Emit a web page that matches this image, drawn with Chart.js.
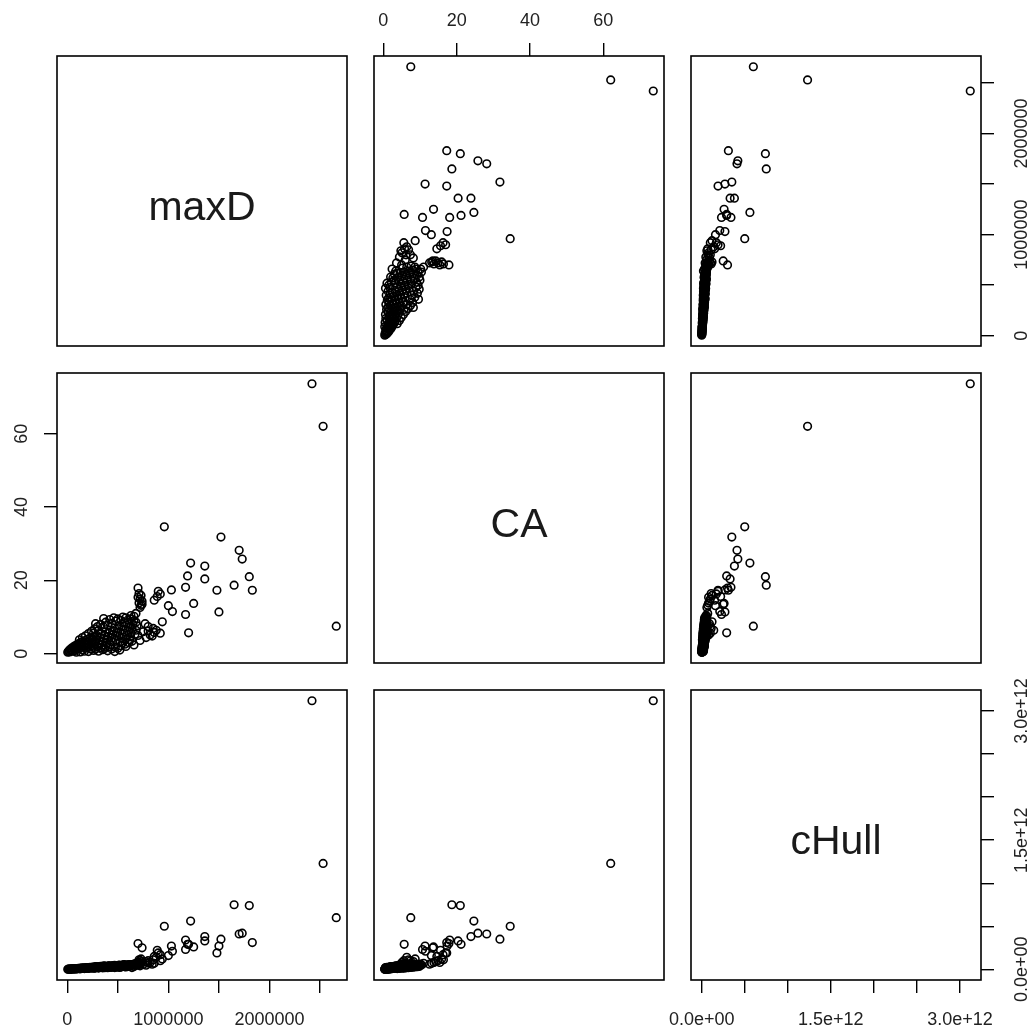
<!DOCTYPE html>
<html>
<head>
<meta charset="utf-8">
<script src="https://cdn.jsdelivr.net/npm/chart.js@4.4.1/dist/chart.umd.min.js"></script>
<style>
  html, body { margin: 0; background: #fff; }
  #wrap { position: relative; width: 1036px; height: 1034px; }
  #wrap canvas { position: absolute; left: 0; top: 0; }
</style>
</head>
<body>
<div id="wrap"></div>
<script>
// ---- data: one entry per observation, same order in every array ----
const maxD = [
  2660000, 2530000, 2420000, 960000, 1520000, 1700000, 1730000, 1220000, 1360000, 1800000,
  1190000, 1360000, 1650000, 1830000, 1170000, 1480000, 1030000, 900000, 700000, 1250000,
  1500000, 1000000, 1040000, 1170000, 1200000, 940000, 860000, 890000, 920000, 920000,
  880000, 820000, 850000, 640000, 360000, 280000, 720000, 730000, 710000, 740000,
  720000, 700000, 730000, 710000, 740000, 680000, 660000, 770000, 800000, 600000,
  550000,
  5000, 12000, 18000, 25000, 31000, 36000, 42000, 48000, 55000, 61000,
  66000, 72000, 79000, 83000, 91000, 97000, 104000, 110000, 116000, 122000,
  129000, 135000, 141000, 148000, 153000, 160000, 167000, 173000, 180000, 186000,
  193000, 199000, 205000, 212000, 219000, 226000, 232000, 238000, 245000, 251000,
  258000, 265000, 272000, 279000, 286000, 293000, 300000, 308000, 315000, 322000,
  330000, 338000, 345000, 352000, 360000, 368000, 375000, 383000, 390000, 398000,
  405000, 413000, 420000, 428000, 436000, 444000, 452000, 460000, 468000, 476000,
  484000, 492000, 500000, 508000, 517000, 525000, 534000, 542000, 550000, 559000,
  567000, 576000, 585000, 594000, 603000, 612000, 620000, 630000, 640000, 650000,
  660000, 670000, 680000, 690000,
  210000, 260000, 310000, 350000, 400000, 440000, 470000, 500000, 530000, 570000,
  610000, 520000, 420000, 370000, 280000, 170000, 130000, 90000,
  120000, 150000, 180000, 210000, 240000, 270000, 300000, 330000, 380000, 420000,
  460000, 500000, 310000, 260000, 360000, 400000, 440000, 480000, 530000, 580000,
  630000,
  580000, 660000, 720000, 780000, 840000, 750000, 700000, 620000, 550000, 860000,
  800000, 680000, 630000
];
const CA = [
  7.5, 62.0, 73.6, 34.6, 31.8, 28.2, 25.8, 24.7, 23.9, 21.0,
  21.2, 20.4, 18.7, 17.3, 18.1, 17.3, 17.4, 17.0, 17.9, 13.7,
  11.4, 13.1, 11.5, 10.7, 5.7, 8.7, 14.6, 15.6, 16.3, 5.6,
  6.4, 5.1, 6.9, 3.4, 9.6, 8.2, 12.6, 13.2, 13.8, 14.3,
  14.9, 15.4, 15.9, 16.4, 13.5, 11.0, 10.2, 8.2, 7.4, 9.2,
  10.0,
  0.4, 0.6, 0.9, 0.5, 1.2, 0.8, 1.5, 1.0, 0.7, 1.8,
  1.3, 2.1, 0.9, 1.6, 2.4, 1.2, 1.9, 2.7, 1.4, 2.2,
  3.0, 1.7, 2.5, 3.3, 1.1, 2.0, 2.8, 3.6, 1.5, 2.3,
  3.1, 3.9, 1.8, 2.6, 3.4, 4.3, 1.3, 2.1, 3.0, 3.8,
  4.6, 1.7, 2.5, 3.3, 4.1, 5.0, 2.0, 2.9, 3.7, 4.5,
  5.4, 1.6, 2.4, 3.2, 4.2, 5.0, 5.9, 2.0, 2.9, 3.8,
  4.7, 5.6, 6.4, 2.4, 3.3, 4.3, 5.2, 6.1, 7.0, 1.8,
  3.7, 4.8, 5.8, 6.8, 7.7, 3.2, 4.3, 5.4, 6.5, 7.5,
  8.5, 4.0, 5.1, 6.2, 7.3, 8.2, 4.6, 5.8, 6.9, 8.0,
  9.0, 5.3, 6.4, 7.6,
  0.6, 0.9, 0.7, 1.1, 0.8, 1.3, 0.6, 1.5, 2.2, 2.6,
  3.0, 1.0, 1.9, 1.4, 1.2, 0.7, 0.5, 0.4,
  3.8, 4.4, 4.9, 5.5, 6.1, 6.8, 7.4, 8.0, 8.6, 9.3,
  9.8, 9.5, 6.3, 5.6, 7.3, 7.8, 8.3, 8.9, 9.1, 9.8,
  10.4,
  2.0, 2.4, 3.6, 4.4, 4.8, 6.0, 5.0, 3.8, 3.0, 5.8,
  6.2, 8.6, 9.5
];
const cHull = [
  0.60e12, 1.23e12, 3.12e12, 0.50e12, 0.35e12, 0.41e12, 0.42e12, 0.56e12, 0.38e12, 0.74e12,
  0.29e12, 0.33e12, 0.75e12, 0.31e12, 0.34e12, 0.19e12, 0.27e12, 0.19e12, 0.30e12, 0.26e12,
  0.27e12, 0.16e12, 0.21e12, 0.23e12, 0.29e12, 0.12e12, 0.15e12, 0.22e12, 0.17e12, 0.10e12,
  0.14e12, 0.08e12, 0.11e12, 0.02e12, 0.04e12, 0.03e12, 0.06e12, 0.07e12, 0.08e12, 0.09e12,
  0.10e12, 0.08e12, 0.12e12, 0.11e12, 0.25e12, 0.07e12, 0.06e12, 0.09e12, 0.10e12, 0.05e12,
  0.05e12,
  0.0005e12, 0.001e12, 0.001e12, 0.002e12, 0.002e12, 0.003e12, 0.003e12, 0.004e12, 0.004e12, 0.005e12,
  0.005e12, 0.006e12, 0.006e12, 0.007e12, 0.008e12, 0.007e12, 0.009e12, 0.010e12, 0.009e12, 0.011e12,
  0.012e12, 0.011e12, 0.013e12, 0.014e12, 0.010e12, 0.014e12, 0.015e12, 0.017e12, 0.013e12, 0.016e12,
  0.018e12, 0.020e12, 0.016e12, 0.019e12, 0.021e12, 0.023e12, 0.015e12, 0.019e12, 0.022e12, 0.024e12,
  0.026e12, 0.019e12, 0.022e12, 0.025e12, 0.027e12, 0.030e12, 0.022e12, 0.026e12, 0.028e12, 0.031e12,
  0.033e12, 0.021e12, 0.025e12, 0.029e12, 0.032e12, 0.034e12, 0.037e12, 0.026e12, 0.030e12, 0.033e12,
  0.036e12, 0.039e12, 0.041e12, 0.029e12, 0.033e12, 0.037e12, 0.040e12, 0.043e12, 0.046e12, 0.028e12,
  0.036e12, 0.040e12, 0.044e12, 0.047e12, 0.050e12, 0.035e12, 0.040e12, 0.044e12, 0.048e12, 0.051e12,
  0.054e12, 0.039e12, 0.043e12, 0.047e12, 0.051e12, 0.054e12, 0.042e12, 0.046e12, 0.050e12, 0.054e12,
  0.058e12, 0.045e12, 0.049e12, 0.053e12,
  0.010e12, 0.012e12, 0.014e12, 0.017e12, 0.018e12, 0.021e12, 0.020e12, 0.024e12, 0.027e12, 0.030e12,
  0.033e12, 0.022e12, 0.023e12, 0.019e12, 0.014e12, 0.008e12, 0.006e12, 0.004e12,
  0.008e12, 0.010e12, 0.012e12, 0.014e12, 0.017e12, 0.019e12, 0.022e12, 0.025e12, 0.028e12, 0.031e12,
  0.034e12, 0.037e12, 0.020e12, 0.016e12, 0.026e12, 0.029e12, 0.033e12, 0.036e12, 0.040e12, 0.045e12,
  0.050e12,
  0.028e12, 0.032e12, 0.040e12, 0.048e12, 0.060e12, 0.055e12, 0.050e12, 0.038e12, 0.033e12, 0.070e12,
  0.072e12, 0.060e12, 0.055e12
];

// ---- ticks ----
const maxDTicks = [0, 500000, 1000000, 1500000, 2000000, 2500000];
const maxDTickLabels = ['0', '', '1000000', '', '2000000', ''];
const CATicks = [0, 20, 40, 60];
const CATickLabels = ['0', '20', '40', '60'];
const cHullTicks = [0, 0.5e12, 1.0e12, 1.5e12, 2.0e12, 2.5e12, 3.0e12];
const cHullTickLabels = ['0.0e+00', '', '', '1.5e+12', '', '', '3.0e+12'];

const vars = [
  { name: 'maxD', values: maxD, ticks: maxDTicks, labels: maxDTickLabels },
  { name: 'CA', values: CA, ticks: CATicks, labels: CATickLabels },
  { name: 'cHull', values: cHull, ticks: cHullTicks, labels: cHullTickLabels }
];

// R style range: data range stretched by 4% on each side
function padRange(v) {
  const lo = Math.min.apply(null, v), hi = Math.max.apply(null, v);
  const d = (hi - lo) * 0.04;
  return [lo - d, hi + d];
}
vars.forEach(function (v) { v.range = padRange(v.values); });

// ---- layout ----
const W = 1036, H = 1034, SIZE = 290;
const colLeft = [57, 374, 691];
const rowTop = [56, 373, 690];
const TOP_AXIS = rowTop[0];
const BOTTOM_AXIS = H - (rowTop[2] + SIZE);
const LEFT_AXIS = colLeft[0];
const RIGHT_AXIS = W - (colLeft[2] + SIZE);
const FONT = '"Liberation Sans", Arial, sans-serif';

const pairsPanel = {
  id: 'pairsPanel',
  afterDraw: function (chart, args, opts) {
    const ctx = chart.ctx, a = chart.chartArea;
    ctx.save();
    ctx.strokeStyle = '#000';
    ctx.lineWidth = 1.6;
    ctx.strokeRect(a.left, a.top, a.right - a.left, a.bottom - a.top);

    if (opts.name) {
      ctx.font = '41px ' + FONT;
      ctx.fillStyle = '#1a1a1a';
      ctx.textAlign = 'center';
      ctx.textBaseline = 'middle';
      ctx.fillText(opts.name, (a.left + a.right) / 2, (a.top + a.bottom) / 2 + 8);
    }

    ctx.font = '18px ' + FONT;
    ctx.fillStyle = '#222';
    ctx.textAlign = 'center';
    ctx.textBaseline = 'middle';
    const xv = vars[opts.xVar], yv = vars[opts.yVar];
    if (opts.top || opts.bottom) {
      xv.ticks.forEach(function (t, i) {
        if (!xv.labels[i]) return;
        const px = chart.scales.x.getPixelForValue(t);
        ctx.fillText(xv.labels[i], px, opts.top ? a.top - 35 : a.bottom + 40);
      });
    }
    if (opts.left || opts.right) {
      yv.ticks.forEach(function (t, i) {
        if (!yv.labels[i]) return;
        const py = chart.scales.y.getPixelForValue(t);
        ctx.save();
        ctx.translate(opts.left ? a.left - 35 : a.right + 41, py);
        ctx.rotate(-Math.PI / 2);
        ctx.fillText(yv.labels[i], 0, 0);
        ctx.restore();
      });
    }
    ctx.restore();
  }
};

function axisScale(v, show, position, fit) {
  return {
    type: 'linear',
    min: v.range[0],
    max: v.range[1],
    display: show,
    position: position,
    afterBuildTicks: function (s) { s.ticks = v.ticks.map(function (t) { return { value: t }; }); },
    // hidden scales must stay at zero size
    afterFit: function (s) { if (show) fit(s); },
    ticks: { display: false },
    grid: { drawOnChartArea: false, drawTicks: true, tickLength: 13, color: '#000', lineWidth: 1.4 },
    border: { display: false }
  };
}

const wrap = document.getElementById('wrap');

for (let r = 0; r < 3; r++) {
  for (let c = 0; c < 3; c++) {
    const xv = vars[c], yv = vars[r];
    const top = r === 0 && c === 1;
    const bottom = r === 2 && c !== 1;
    const left = c === 0 && r === 1;
    const right = c === 2 && r !== 1;

    const canvas = document.createElement('canvas');
    canvas.width = W;
    canvas.height = H;
    wrap.appendChild(canvas);

    const datasets = [];
    if (r !== c) {
      datasets.push({
        data: xv.values.map(function (x, i) { return { x: x, y: yv.values[i] }; }),
        pointStyle: 'circle',
        pointRadius: 3.8,
        pointBorderWidth: 1.6,
        pointBorderColor: '#000',
        pointBackgroundColor: 'rgba(0,0,0,0)',
        showLine: false,
        clip: false
      });
    }

    new Chart(canvas, {
      type: 'scatter',
      data: { datasets: datasets },
      options: {
        responsive: false,
        animation: false,
        events: [],
        layout: {
          padding: {
            left: colLeft[c] - (left ? LEFT_AXIS : 0),
            right: W - (colLeft[c] + SIZE) - (right ? RIGHT_AXIS : 0),
            top: rowTop[r] - (top ? TOP_AXIS : 0),
            bottom: H - (rowTop[r] + SIZE) - (bottom ? BOTTOM_AXIS : 0)
          }
        },
        scales: {
          x: axisScale(xv, top || bottom, top ? 'top' : 'bottom',
            function (s) { s.height = top ? TOP_AXIS : BOTTOM_AXIS; }),
          y: axisScale(yv, left || right, left ? 'left' : 'right',
            function (s) { s.width = left ? LEFT_AXIS : RIGHT_AXIS; })
        },
        plugins: {
          legend: { display: false },
          tooltip: { enabled: false },
          pairsPanel: {
            xVar: c, yVar: r,
            name: r === c ? xv.name : null,
            top: top, bottom: bottom, left: left, right: right
          }
        }
      },
      plugins: [pairsPanel]
    });
  }
}
</script>
</body>
</html>
